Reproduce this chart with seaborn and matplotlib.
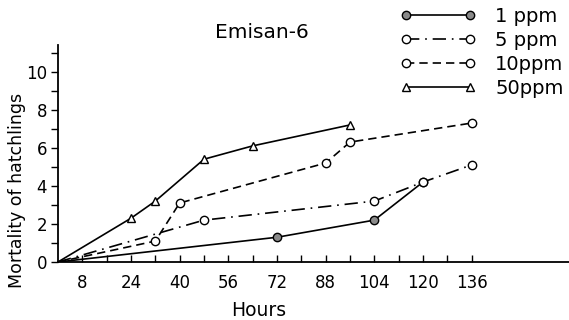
import numpy as np
import pandas as pd
import matplotlib
matplotlib.use("Agg")
import matplotlib.pyplot as plt
import seaborn as sns
from matplotlib.lines import Line2D
from matplotlib.ticker import FixedLocator

# ---- data ----
hours_1ppm = [0, 72, 104, 120]
mort_1ppm = [0, 1.3, 2.2, 4.2]
hours_5ppm = [0, 48, 104, 120, 136]
mort_5ppm = [0, 2.2, 3.2, 4.2, 5.1]
hours_10ppm = [0, 32, 40, 88, 96, 136]
mort_10ppm = [0, 1.1, 3.1, 5.2, 6.3, 7.3]
hours_50ppm = [0, 24, 32, 48, 64, 96]
mort_50ppm = [0, 2.3, 3.2, 5.4, 6.1, 7.2]
series_labels = ["1 ppm", "5 ppm", "10ppm", "50ppm"]
x_tick_values = [8, 24, 40, 56, 72, 88, 104, 120, 136]
x_minor_values = [16, 32, 48, 64, 80, 96, 112, 128]
y_tick_values = [0, 2, 4, 6, 8, 10]
y_minor_values = [1, 3, 5, 7, 9, 11]
title_text = "Emisan-6"
x_label = "Hours"
y_label = "Mortality of hatchlings"

sns.set_theme(style="ticks")
plt.rcParams["font.family"] = ["DejaVu Sans"]
plt.rcParams["text.color"] = "black"
plt.rcParams["axes.labelcolor"] = "black"

fig = plt.figure(figsize=(5.69, 3.2), dpi=100)
ax = fig.add_axes([58 / 569, 1 - 262 / 320, 1 - 58 / 569, (262 - 45) / 320])

styles = [
    dict(ls="-", marker="o", mfc="#8a8a8a"),
    dict(ls=(0, (8, 3.5, 1, 3.5)), marker="o", mfc="white"),
    dict(ls=(0, (5, 3)), marker="o", mfc="white"),
    dict(ls="-", marker="^", mfc="white"),
]
series = [
    (hours_1ppm, mort_1ppm),
    (hours_5ppm, mort_5ppm),
    (hours_10ppm, mort_10ppm),
    (hours_50ppm, mort_50ppm),
]

handles = []
for (hx, hy), lab, st in zip(series, series_labels, styles):
    df = pd.DataFrame({"Hours": hx, "Mortality": hy})
    sns.lineplot(data=df, x="Hours", y="Mortality", ax=ax, color="black",
                 linestyle=st["ls"], linewidth=1.2, marker=st["marker"],
                 markersize=6, markerfacecolor=st["mfc"], markeredgecolor="black",
                 markeredgewidth=1.0, markevery=slice(1, None), legend=False,
                 sort=False)
    handles.append(Line2D([0], [0], color="black", linestyle=st["ls"], linewidth=1.2,
                          marker=st["marker"], markersize=6, markerfacecolor=st["mfc"],
                          markeredgecolor="black", markeredgewidth=1.0, label=lab))

ax.set_xlim(0, 168)
ax.set_ylim(0, 11.4)
sns.despine(ax=ax)
for s in ["left", "bottom"]:
    ax.spines[s].set_linewidth(1.3)
    ax.spines[s].set_color("black")

ax.xaxis.set_major_locator(FixedLocator(x_tick_values))
ax.xaxis.set_minor_locator(FixedLocator(x_minor_values))
ax.set_xticklabels([str(v) for v in x_tick_values])
ax.yaxis.set_major_locator(FixedLocator(y_tick_values))
ax.yaxis.set_minor_locator(FixedLocator(y_minor_values))
ax.set_yticklabels([str(v) for v in y_tick_values])

ax.tick_params(axis="x", which="both", direction="in", length=5, width=1.0,
               colors="black", labelsize=12, pad=9)
ax.tick_params(axis="y", which="both", direction="out", length=5, width=1.0,
               colors="black", labelsize=12, pad=3)

ax.set_xlabel(x_label, fontsize=13.5, color="black", va="center")
ax.xaxis.set_label_coords(259 / 569, 1 - 310 / 320, transform=fig.transFigure)

ax.set_ylabel(y_label, fontsize=12.5, color="black", va="center")
ax.yaxis.set_label_coords(17 / 569, 1 - 190 / 320, transform=fig.transFigure)

fig.text(262 / 569, 1 - 33 / 320, title_text, fontsize=14.5, ha="center", va="center",
         color="black")

fig.legend(handles=handles, loc="upper left", bbox_to_anchor=(400 / 569, 1 - 6.5 / 320),
           frameon=False, numpoints=2, handlelength=3.9, handletextpad=1.0,
           labelspacing=0.26, fontsize=14, borderaxespad=0.0, borderpad=0.0)

fig.savefig("out.png", dpi=100, facecolor="white")
